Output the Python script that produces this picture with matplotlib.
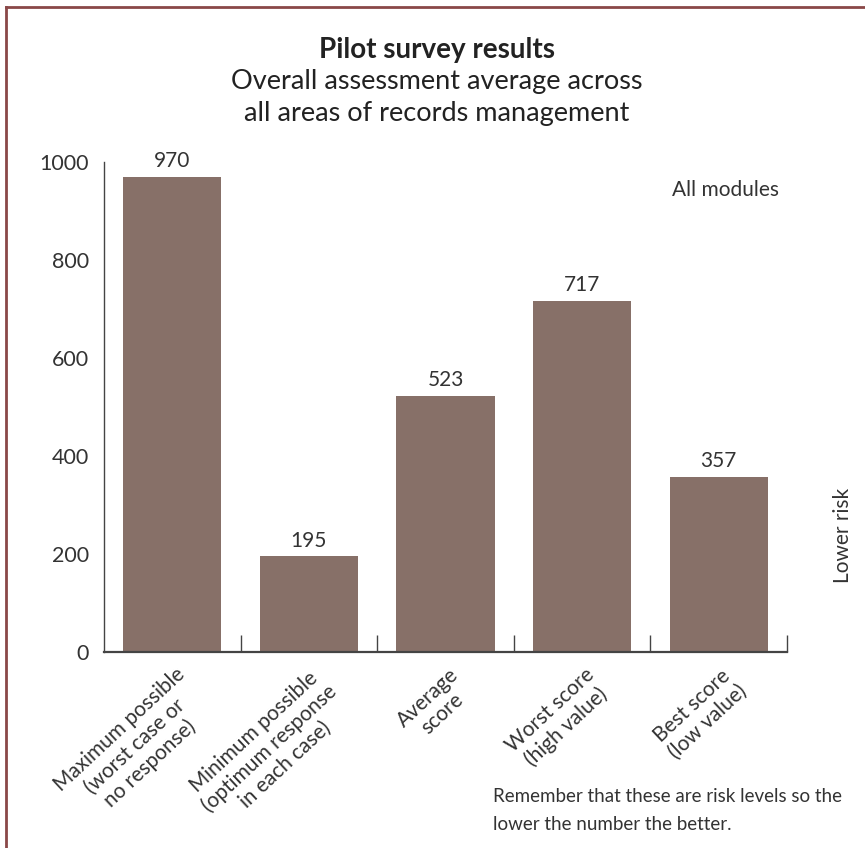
import matplotlib.pyplot as plt
from matplotlib.lines import Line2D

# data
categories = ["Maximum possible\n(worst case or\nno response)",
              "Minimum possible\n(optimum response\nin each case)",
              "Average\nscore",
              "Worst score\n(high value)",
              "Best score\n(low value)"]
values = [970, 195, 523, 717, 357]
yticks = [0, 200, 400, 600, 800, 1000]

bar_color = '#877068'
text_color = '#333333'

plt.rcParams['font.family'] = ['Lato', 'DejaVu Sans']

fig = plt.figure(figsize=(8.65, 8.48), dpi=100)
W, H = 865, 848

# axes: x from 104 to 787 px, y zero at 652, 1000 at 162
ax = fig.add_axes([104 / W, 1 - 652 / H, (787 - 104) / W, (652 - 162) / H])
x = list(range(len(values)))
ax.bar(x, values, width=0.72, color=bar_color, zorder=2)
ax.set_xlim(-0.5, len(values) - 0.5)
ax.set_ylim(0, 1000)

for xi, v in zip(x, values):
    ax.text(xi, v + 12, str(v), ha='center', va='bottom', fontsize=15, color=text_color)

ax.spines['top'].set_visible(False)
ax.spines['right'].set_visible(False)
ax.spines['left'].set_color('#444444')
ax.spines['bottom'].set_color('#444444')
ax.spines['left'].set_linewidth(1.0)
ax.spines['bottom'].set_linewidth(1.6)

ax.set_yticks(yticks)
ax.set_yticklabels([str(t) for t in yticks], fontsize=15.5, color=text_color)
ax.tick_params(axis='y', length=0, pad=11)

# ticks at category boundaries, pointing up
ax.set_xticks([i + 0.5 for i in x])
ax.set_xticklabels([])
ax.tick_params(axis='x', direction='in', length=12, width=1.0, color='#444444')

for xi, lab in zip(x, categories):
    ax.annotate(lab, xy=(xi + 0.02, 0), xycoords=('data', 'axes fraction'),
                xytext=(0, -9), textcoords='offset points',
                rotation=43, ha='right', va='top', rotation_mode='anchor',
                multialignment='center', fontsize=15, color=text_color,
                linespacing=1.15)

# titles
fig.text(0.505, 1 - 50 / H, "Pilot survey results", ha='center', va='center',
         fontsize=20, fontweight='bold', color='#222222')
fig.text(0.505, 1 - 82 / H, "Overall assessment average across", ha='center', va='center',
         fontsize=19.5, color='#222222')
fig.text(0.505, 1 - 113 / H, "all areas of records management", ha='center', va='center',
         fontsize=19.5, color='#222222')

fig.text(725 / W, 1 - 190 / H, "All modules", ha='center', va='center',
         fontsize=15, color=text_color)
fig.text(843 / W, 1 - 535 / H, "Lower risk", ha='center', va='center', rotation=90,
         fontsize=15, color=text_color)
fig.text(493 / W, 1 - 797 / H, "Remember that these are risk levels so the",
         ha='left', va='center', fontsize=13.5, color=text_color)
fig.text(493 / W, 1 - 824 / H, "lower the number the better.",
         ha='left', va='center', fontsize=13.5, color=text_color)

# frame lines on the left and top
fig.add_artist(Line2D([6 / W, 6 / W], [0, 1 - 7 / H], color='#8a4848', lw=2))
fig.add_artist(Line2D([6 / W, 1], [1 - 7 / H, 1 - 7 / H], color='#8a4848', lw=2))

fig.savefig('out.png', dpi=100, facecolor='white')
